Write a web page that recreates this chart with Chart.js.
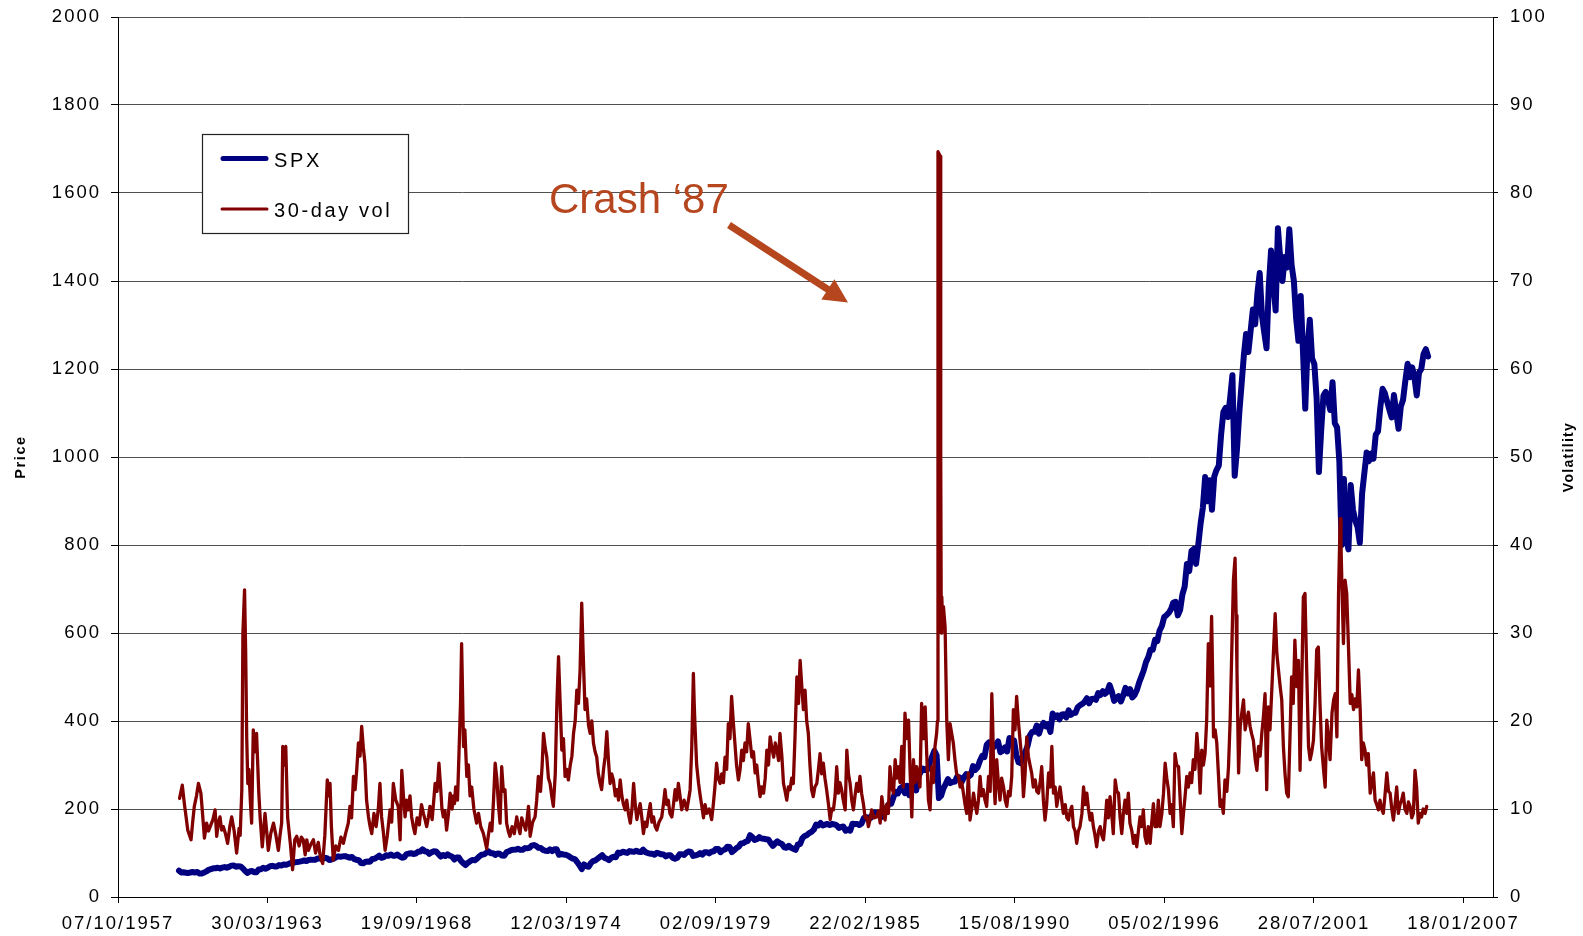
<!DOCTYPE html>
<html><head><meta charset="utf-8">
<script src="https://cdn.jsdelivr.net/npm/chart.js@4.4.0/dist/chart.umd.min.js"></script>
<style>html,body{margin:0;padding:0;background:#fff}canvas{display:block}</style>
</head><body>
<canvas id="c" width="1583" height="936"></canvas>
<script>
// ---------------- DATA ----------------
const xTickLabels = ['07/10/1957','30/03/1963','19/09/1968','12/03/1974','02/09/1979','22/02/1985','15/08/1990','05/02/1996','28/07/2001','18/01/2007'];
const priceAxis = {min: 0, max: 2000, step: 200};
const volAxis = {min: 0, max: 100, step: 10};
const seriesNames = ['SPX', '30-day vol'];
const annotationText = 'Crash \u201887';

// SPX, one value per month starting at the start of 1960
const spxStartYear = 1960;
const spxMonthly = [59.9,
55.6,56.1,55.3,54.4,55.8,56.9,55.5,57.0,53.5,53.4,55.5,58.1,
61.8,63.4,65.1,65.3,66.6,64.6,66.8,68.1,66.7,68.6,71.3,71.6,
68.8,69.9,69.6,65.2,59.6,54.8,58.2,59.1,56.3,56.5,62.3,63.1,
66.2,64.3,66.6,69.8,70.8,69.4,69.1,72.5,71.7,74.0,73.2,75.0,
77.0,77.8,79.0,79.5,80.4,81.7,83.2,81.8,84.2,84.9,84.4,84.8,
87.6,87.4,86.2,89.1,88.4,84.1,85.3,87.2,90.0,92.4,91.6,92.4,
92.9,91.2,89.2,91.1,86.1,84.7,83.6,77.1,76.6,80.2,80.5,80.3,
86.6,86.8,90.2,94.0,89.1,90.6,94.8,93.6,96.7,93.9,94.0,96.5,
92.2,89.4,90.2,97.5,98.7,99.6,97.7,98.9,102.7,103.4,108.4,103.9,
103.0,98.1,101.5,103.7,103.5,97.7,91.8,95.5,93.1,97.1,93.8,92.1,
85.0,89.5,89.6,81.5,76.6,72.7,78.1,81.5,84.3,83.3,87.2,92.2,
95.9,96.8,100.3,103.9,99.6,99.7,95.6,99.0,98.3,94.2,94.0,102.1,
103.9,106.6,107.2,107.7,109.5,107.1,107.4,111.1,110.6,111.6,116.7,118.1,
116.0,111.7,111.5,107.0,105.0,104.3,108.2,104.3,108.4,108.3,96.0,97.6,
96.6,96.2,94.0,90.3,87.3,86.0,79.3,72.2,63.5,73.9,70.0,68.6,
77.0,81.6,83.4,87.3,91.2,95.2,88.8,86.9,83.9,89.0,91.2,90.2,
100.9,99.7,102.8,101.6,100.2,104.3,103.4,102.9,105.2,102.9,102.1,107.5,
102.0,99.8,98.4,98.4,96.1,100.5,98.9,97.0,96.5,92.3,94.8,95.1,
89.3,87.0,89.2,97.0,97.2,95.5,100.7,103.3,102.5,93.2,94.7,96.1,
99.9,96.3,101.6,101.8,99.1,102.9,103.8,109.3,109.3,101.8,106.2,107.9,
114.2,113.7,102.1,106.3,111.2,114.2,121.7,122.4,125.5,127.5,140.5,135.8,
129.6,131.3,136.0,132.8,132.6,131.2,130.9,122.8,116.2,121.9,126.4,122.6,
120.4,113.1,112.0,116.4,111.9,109.6,107.1,119.5,120.4,133.7,138.5,140.6,
145.3,148.1,153.0,164.4,162.4,168.1,162.6,164.4,166.1,163.6,166.4,164.9,
163.4,157.1,159.2,160.1,150.6,153.2,150.7,166.7,166.1,166.1,163.6,167.2,
179.6,181.2,180.7,179.8,189.6,191.9,190.9,188.6,182.1,189.8,202.2,211.3,
211.8,226.9,238.9,235.5,247.4,250.8,236.1,252.9,231.3,244.0,249.2,242.2,
274.1,284.2,291.7,288.4,290.1,304.0,318.7,332.0,321.8,225.0,230.3,247.1,
257.1,267.8,258.9,261.3,262.2,273.5,272.0,261.5,271.9,279.0,273.7,277.7,
297.5,288.9,294.9,309.6,320.5,318.0,346.1,351.5,349.2,340.4,346.0,353.4,
329.1,331.9,339.9,330.8,361.2,358.0,356.2,322.6,306.1,304.0,322.2,330.2,
343.9,367.1,375.2,375.3,389.8,371.2,387.8,395.4,387.9,392.5,375.2,417.1,
408.8,412.7,403.7,415.0,415.4,408.1,424.2,414.0,417.8,418.7,431.4,435.7,
438.8,443.4,451.7,440.2,450.2,450.5,448.1,463.6,458.9,467.8,461.8,466.5,
481.6,467.1,445.8,450.9,456.5,444.3,458.3,475.5,462.7,472.4,453.7,459.3,
470.4,487.4,500.7,514.7,533.4,544.8,562.1,561.9,584.4,581.5,605.4,615.9,
636.0,640.4,645.5,654.2,669.1,670.6,640.0,652.0,687.3,705.3,757.0,740.7,
786.2,790.8,757.1,801.3,848.3,885.1,954.3,899.5,947.3,880.0,955.4,970.4,
980.3,1049.3,1101.8,1111.8,1090.8,1133.8,1186.0,957.3,1017.0,1098.7,1163.6,1229.2,
1279.6,1238.3,1286.4,1335.2,1301.8,1372.7,1418.0,1320.4,1282.7,1247.0,1388.9,1469.3,
1394.5,1333.0,1520.0,1452.4,1400.0,1454.6,1430.8,1517.7,1436.5,1400.0,1315.2,1264.0,
1366.0,1239.9,1110.0,1249.5,1312.0,1224.4,1211.2,1133.6,966.0,1059.8,1139.5,1148.1,
1130.2,1106.7,1170.0,1076.9,1067.1,989.8,800.0,950.0,815.3,790.0,936.3,879.8,
855.7,841.2,805.0,916.9,963.6,1010.0,990.3,1008.0,996.0,1050.7,1058.2,1111.9,
1155.0,1144.9,1126.2,1107.3,1090.0,1140.8,1101.7,1064.0,1114.6,1130.2,1173.8,1211.9,
1181.3,1203.6,1180.6,1140.0,1191.5,1200.0,1234.2,1245.0,1228.8
];

// 30-day volatility, [decimal year, vol %]
const volSeries = [
[1960.02,11.2],[1960.12,12.7],[1960.2,10.5],[1960.26,9.1],[1960.32,7.6],[1960.44,6.5],[1960.5,8.5],[1960.56,10.3],[1960.64,11.5],[1960.71,12.9],[1960.8,11.8],[1960.86,9.5],[1960.93,6.7],
[1961.01,8.4],[1961.08,7.5],[1961.14,8.0],[1961.24,8.8],[1961.32,9.9],[1961.38,6.9],[1961.44,8.5],[1961.5,9.1],[1961.56,7.6],[1961.62,8.0],[1961.7,7.2],[1961.78,6.1],[1961.86,8.0],[1961.93,9.1],
[1962.02,7.5],[1962.11,5.0],[1962.2,7.8],[1962.24,7.0],[1962.3,12.2],[1962.34,30.0],[1962.4,34.9],[1962.44,28.0],[1962.48,18.0],[1962.52,12.9],[1962.56,14.5],[1962.62,10.5],[1962.66,8.4],[1962.72,19.0],[1962.78,16.5],[1962.84,18.6],[1962.92,12.0],[1962.97,9.1],
[1963.05,5.7],[1963.15,9.5],[1963.21,7.5],[1963.27,5.3],[1963.36,7.2],[1963.46,8.4],[1963.55,7.0],[1963.64,5.3],[1963.7,7.0],[1963.76,8.4],[1963.8,17.1],[1963.86,15.0],[1963.91,17.1],[1963.98,9.0],
[1964.08,6.0],[1964.16,3.1],[1964.24,6.5],[1964.31,6.9],[1964.4,5.8],[1964.48,6.8],[1964.55,6.5],[1964.62,4.8],[1964.68,6.5],[1964.74,5.3],[1964.83,6.0],[1964.92,6.5],
[1965.0,5.0],[1965.1,6.2],[1965.18,4.5],[1965.26,3.8],[1965.34,7.0],[1965.43,13.3],[1965.48,11.5],[1965.53,12.9],[1965.58,8.0],[1965.65,4.2],[1965.74,5.8],[1965.84,5.3],[1965.93,6.8],
[1966.02,6.1],[1966.1,7.2],[1966.2,8.4],[1966.26,10.3],[1966.32,9.0],[1966.39,13.7],[1966.45,12.2],[1966.51,14.5],[1966.57,17.5],[1966.63,16.0],[1966.69,19.4],[1966.75,17.0],[1966.81,15.2],[1966.87,11.0],[1966.94,9.1],
[1967.0,8.0],[1967.06,7.2],[1967.14,9.5],[1967.22,8.0],[1967.3,10.0],[1967.36,12.9],[1967.42,9.1],[1967.48,7.5],[1967.55,5.3],[1967.63,7.0],[1967.73,9.9],[1967.79,8.5],[1967.85,12.9],[1967.94,11.0],
[1968.03,10.3],[1968.1,6.5],[1968.16,14.4],[1968.22,11.5],[1968.28,9.1],[1968.34,11.0],[1968.4,9.9],[1968.46,11.5],[1968.52,9.1],[1968.58,8.0],[1968.64,7.2],[1968.72,9.0],[1968.8,8.2],[1968.88,10.5],[1968.95,9.5],
[1969.01,8.8],[1969.07,8.0],[1969.13,9.0],[1969.19,10.3],[1969.27,8.8],[1969.33,11.0],[1969.38,12.9],[1969.45,12.0],[1969.52,15.2],[1969.58,12.5],[1969.63,10.0],[1969.68,9.1],[1969.74,9.8],[1969.8,7.6],[1969.87,9.5],[1969.93,11.8],
[1970.0,10.0],[1970.05,11.5],[1970.09,10.6],[1970.13,12.5],[1970.2,11.0],[1970.25,15.9],[1970.31,22.0],[1970.35,28.8],[1970.38,24.0],[1970.42,17.1],[1970.47,19.0],[1970.54,13.7],[1970.6,15.0],[1970.66,11.5],[1970.72,12.5],[1970.8,10.0],[1970.9,8.4],[1970.97,9.5],
[1971.05,8.0],[1971.15,7.2],[1971.27,5.5],[1971.33,7.0],[1971.4,8.4],[1971.46,7.5],[1971.52,11.0],[1971.58,15.2],[1971.64,13.5],[1971.7,10.5],[1971.76,8.4],[1971.82,14.8],[1971.88,12.0],[1971.94,12.2],
[1972.0,8.4],[1972.06,7.5],[1972.12,6.9],[1972.2,8.0],[1972.28,7.2],[1972.37,9.1],[1972.43,8.0],[1972.49,7.2],[1972.55,9.0],[1972.61,8.4],[1972.7,7.6],[1972.8,10.3],[1972.86,6.9],[1972.95,8.5],
[1973.04,9.1],[1973.1,11.0],[1973.16,13.7],[1973.24,12.0],[1973.3,15.0],[1973.35,18.6],[1973.41,17.0],[1973.47,15.9],[1973.53,13.5],[1973.59,12.9],[1973.65,11.5],[1973.71,10.3],[1973.78,14.0],[1973.84,22.0],[1973.9,27.3],[1973.96,22.0],
[1974.02,16.7],[1974.08,18.0],[1974.14,13.7],[1974.2,14.5],[1974.26,13.3],[1974.33,15.0],[1974.39,16.0],[1974.45,18.6],[1974.51,20.0],[1974.57,23.5],[1974.63,22.0],[1974.69,25.8],[1974.75,33.4],[1974.8,28.0],[1974.87,21.3],[1974.93,22.5],
[1975.0,19.5],[1975.06,18.6],[1975.12,20.0],[1975.18,17.5],[1975.24,16.5],[1975.3,15.9],[1975.36,14.0],[1975.42,13.0],[1975.48,12.2],[1975.55,14.5],[1975.61,16.0],[1975.67,18.8],[1975.73,15.5],[1975.79,12.9],[1975.85,14.0],[1975.91,13.3],[1975.98,11.5],
[1976.04,12.2],[1976.1,11.0],[1976.16,13.3],[1976.22,11.5],[1976.28,10.5],[1976.34,9.9],[1976.4,11.0],[1976.46,9.5],[1976.53,8.4],[1976.59,10.0],[1976.65,12.9],[1976.71,10.5],[1976.77,8.8],[1976.83,9.8],[1976.89,10.6],[1976.95,9.0],
[1977.01,7.2],[1977.07,8.5],[1977.13,8.0],[1977.2,9.5],[1977.26,10.6],[1977.32,8.5],[1977.38,9.1],[1977.44,8.0],[1977.5,7.6],[1977.58,8.5],[1977.68,9.1],[1977.74,10.5],[1977.8,12.2],[1977.86,10.5],[1977.92,11.0],[1977.98,9.5],
[1978.05,9.1],[1978.11,10.5],[1978.17,12.2],[1978.23,11.0],[1978.29,12.9],[1978.35,11.5],[1978.41,9.9],[1978.5,11.0],[1978.6,9.9],[1978.66,11.0],[1978.72,12.2],[1978.78,17.0],[1978.84,25.4],[1978.87,22.0],[1978.9,19.4],[1978.96,15.0],
[1979.03,12.9],[1979.09,11.5],[1979.15,10.3],[1979.21,9.0],[1979.27,10.5],[1979.33,9.5],[1979.42,10.0],[1979.51,8.8],[1979.57,10.5],[1979.63,12.5],[1979.69,15.2],[1979.75,13.5],[1979.82,12.9],[1979.88,14.0],[1979.94,13.0],
[1980.0,15.9],[1980.06,14.5],[1980.12,19.7],[1980.18,18.0],[1980.24,22.8],[1980.3,20.0],[1980.36,17.5],[1980.42,15.0],[1980.49,13.3],[1980.55,14.5],[1980.61,16.7],[1980.67,15.5],[1980.73,17.5],[1980.79,16.5],[1980.85,19.7],[1980.91,18.0],[1980.98,15.9],
[1981.04,16.5],[1981.1,14.1],[1981.16,15.0],[1981.22,13.0],[1981.28,11.4],[1981.34,12.5],[1981.41,11.8],[1981.47,13.5],[1981.53,16.7],[1981.59,15.0],[1981.65,18.2],[1981.71,17.0],[1981.78,15.9],[1981.84,17.5],[1981.9,16.7],[1981.96,15.5],
[1982.01,18.6],[1982.08,16.0],[1982.14,12.9],[1982.2,12.0],[1982.26,11.0],[1982.32,12.5],[1982.38,12.2],[1982.44,13.5],[1982.5,12.9],[1982.56,18.0],[1982.63,25.0],[1982.69,22.0],[1982.75,26.9],[1982.81,24.0],[1982.87,21.3],[1982.93,23.5],[1982.99,20.0],
[1983.05,18.6],[1983.11,15.0],[1983.17,12.2],[1983.23,11.4],[1983.29,12.5],[1983.36,12.9],[1983.42,14.5],[1983.48,16.3],[1983.54,14.0],[1983.6,15.2],[1983.66,13.5],[1983.72,12.2],[1983.79,10.5],[1983.85,8.8],[1983.91,10.0],[1983.97,9.9],
[1984.03,11.5],[1984.09,14.8],[1984.15,11.8],[1984.21,13.0],[1984.27,12.2],[1984.33,11.0],[1984.4,9.9],[1984.46,16.7],[1984.52,14.0],[1984.58,12.9],[1984.64,11.0],[1984.7,9.9],[1984.76,11.5],[1984.82,12.9],[1984.88,12.0],[1984.94,13.7],
[1985.0,11.8],[1985.07,10.5],[1985.13,9.0],[1985.19,9.1],[1985.25,8.0],[1985.31,8.8],[1985.37,9.9],[1985.45,9.0],[1985.56,9.1],[1985.62,9.8],[1985.68,8.4],[1985.74,11.4],[1985.8,10.0],[1985.86,8.75],[1985.92,10.5],[1985.98,9.5],
[1986.04,14.8],[1986.1,12.5],[1986.17,11.8],[1986.23,15.6],[1986.29,13.5],[1986.35,14.8],[1986.41,13.0],[1986.47,17.1],[1986.53,12.5],[1986.59,20.9],[1986.65,18.0],[1986.72,20.1],[1986.78,14.1],[1986.84,9.1],[1986.9,15.6],[1986.96,13.0],
[1987.02,14.8],[1987.08,13.5],[1987.14,12.5],[1987.2,22.0],[1987.27,18.0],[1987.33,21.6],[1987.39,16.0],[1987.45,11.0],[1987.51,9.9],[1987.57,14.8],[1987.63,13.0],[1987.69,17.1],[1987.75,18.6],[1987.78,20.0],[1987.8,84.7],[1987.88,84.2],[1987.9,50.0],[1987.92,30.0],[1987.94,34.1],[1987.97,31.0],
[1988.0,33.0],[1988.06,30.7],[1988.12,20.1],[1988.18,15.6],[1988.24,19.7],[1988.3,18.6],[1988.36,17.5],[1988.42,15.6],[1988.48,14.0],[1988.55,13.7],[1988.61,12.5],[1988.67,13.0],[1988.73,11.8],[1988.79,10.5],[1988.85,9.5],[1988.91,14.1],[1988.97,8.75],
[1989.03,10.0],[1989.1,11.8],[1989.16,10.5],[1989.22,9.5],[1989.28,11.0],[1989.34,13.7],[1989.4,11.5],[1989.46,12.2],[1989.52,11.0],[1989.58,10.3],[1989.65,13.7],[1989.71,12.0],[1989.77,23.1],[1989.8,20.0],[1989.84,14.0],[1989.89,10.6],[1989.95,15.6],
[1990.01,13.0],[1990.07,11.0],[1990.13,13.5],[1990.2,12.5],[1990.26,11.0],[1990.32,10.3],[1990.38,12.0],[1990.44,11.5],[1990.5,13.7],[1990.56,21.3],[1990.62,19.0],[1990.68,22.8],[1990.74,20.1],[1990.8,18.0],[1990.87,15.6],[1990.93,11.4],[1990.99,14.0],
[1991.05,18.2],[1991.11,16.0],[1991.17,15.0],[1991.23,14.1],[1991.29,12.5],[1991.36,13.3],[1991.42,12.0],[1991.48,11.8],[1991.54,13.0],[1991.6,14.8],[1991.66,11.0],[1991.72,8.75],[1991.78,10.5],[1991.85,14.1],[1991.91,12.5],[1991.97,17.1],
[1992.03,11.8],[1992.09,12.5],[1992.15,10.3],[1992.21,11.5],[1992.27,12.5],[1992.33,11.0],[1992.39,9.5],[1992.46,10.5],[1992.52,9.0],[1992.58,8.75],[1992.64,9.8],[1992.7,10.3],[1992.76,8.0],[1992.82,7.5],[1992.88,6.1],[1992.94,7.5],
[1993.0,8.0],[1993.07,9.5],[1993.13,12.5],[1993.19,10.5],[1993.25,11.8],[1993.31,10.0],[1993.37,8.75],[1993.43,9.5],[1993.49,8.0],[1993.55,7.0],[1993.61,5.7],[1993.68,7.5],[1993.74,8.0],[1993.8,7.0],[1993.86,6.5],[1993.92,8.5],[1993.98,11.0],
[1994.04,9.0],[1994.1,11.4],[1994.16,9.5],[1994.22,7.2],[1994.29,13.3],[1994.35,12.0],[1994.41,11.8],[1994.47,9.0],[1994.53,7.2],[1994.59,9.5],[1994.65,11.0],[1994.71,9.5],[1994.77,11.8],[1994.83,8.4],[1994.9,7.5],[1994.96,6.1],
[1995.02,7.0],[1995.08,5.7],[1995.14,7.5],[1995.2,9.1],[1995.26,8.0],[1995.32,9.9],[1995.38,6.9],[1995.44,6.1],[1995.5,8.0],[1995.57,6.1],[1995.63,8.5],[1995.69,10.6],[1995.75,8.0],[1995.81,8.0],[1995.87,11.0],[1995.93,8.0],
[1996.0,9.5],[1996.06,11.8],[1996.12,15.2],[1996.18,13.5],[1996.24,12.2],[1996.3,9.5],[1996.36,10.5],[1996.42,8.0],[1996.48,16.3],[1996.54,15.0],[1996.61,14.8],[1996.67,11.0],[1996.73,7.2],[1996.79,9.5],[1996.85,11.5],[1996.91,13.7],[1996.97,12.5],
[1997.03,14.1],[1997.09,13.0],[1997.15,15.6],[1997.21,14.5],[1997.28,18.6],[1997.34,16.0],[1997.4,11.8],[1997.46,16.7],[1997.52,15.0],[1997.58,16.3],[1997.64,20.1],[1997.7,28.8],[1997.76,24.0],[1997.82,31.9],[1997.86,25.0],[1997.89,18.2],[1997.95,19.0],
[1998.01,17.5],[1998.07,14.0],[1998.13,10.3],[1998.19,11.0],[1998.25,9.5],[1998.31,13.3],[1998.38,12.0],[1998.44,14.8],[1998.5,20.1],[1998.56,28.0],[1998.62,36.0],[1998.68,38.5],[1998.72,32.0],[1998.75,25.8],[1998.81,14.1],[1998.87,19.4],[1998.93,21.0],[1998.99,22.4],
[1999.05,19.0],[1999.11,20.1],[1999.17,21.0],[1999.23,19.4],[1999.29,18.5],[1999.35,17.8],[1999.42,15.6],[1999.48,14.4],[1999.54,17.1],[1999.6,16.0],[1999.66,18.6],[1999.72,20.5],[1999.78,23.1],[1999.84,12.2],[1999.9,21.6],[1999.96,19.0],
[2000.02,23.1],[2000.08,27.3],[2000.15,32.2],[2000.21,27.7],[2000.27,25.8],[2000.33,24.0],[2000.39,22.4],[2000.45,17.1],[2000.51,14.0],[2000.57,11.8],[2000.63,11.4],[2000.69,18.0],[2000.75,25.0],[2000.81,22.0],[2000.87,29.2],[2000.94,23.9],
[2001.0,26.9],[2001.06,14.4],[2001.12,23.9],[2001.18,34.1],[2001.24,34.5],[2001.3,26.2],[2001.37,17.1],[2001.43,15.6],[2001.49,16.5],[2001.55,17.8],[2001.61,22.0],[2001.67,28.1],[2001.73,28.4],[2001.79,22.0],[2001.85,17.1],[2001.92,14.5],[2001.98,12.5],
[2002.04,20.1],[2002.1,18.0],[2002.16,15.6],[2002.23,20.9],[2002.29,22.4],[2002.35,23.1],[2002.41,18.2],[2002.47,34.5],[2002.53,43.0],[2002.56,40.0],[2002.59,36.0],[2002.65,28.8],[2002.71,36.0],[2002.77,34.5],[2002.83,28.8],[2002.9,22.0],[2002.96,23.0],
[2003.02,21.3],[2003.08,22.5],[2003.14,21.6],[2003.2,25.8],[2003.26,21.6],[2003.32,15.6],[2003.38,17.5],[2003.44,16.7],[2003.5,15.0],[2003.56,16.3],[2003.63,11.8],[2003.69,13.0],[2003.75,14.1],[2003.81,11.0],[2003.87,10.5],[2003.93,9.9],[2003.99,11.0],
[2004.05,10.0],[2004.11,9.5],[2004.17,11.5],[2004.24,14.1],[2004.3,12.0],[2004.36,11.8],[2004.42,10.0],[2004.48,8.75],[2004.54,10.5],[2004.6,12.5],[2004.66,9.5],[2004.72,10.5],[2004.78,11.0],[2004.84,11.8],[2004.9,10.0],[2004.97,9.5],
[2005.03,10.8],[2005.09,10.3],[2005.15,9.0],[2005.21,9.5],[2005.27,14.4],[2005.33,12.5],[2005.39,8.4],[2005.45,9.5],[2005.51,9.1],[2005.57,10.0],[2005.64,9.5],[2005.7,10.3]
];

// ---------------- HELPERS ----------------
const EXCEL_BASE = Date.UTC(1899, 11, 30);
function labelToSerial(s) { const p = s.split('/').map(Number); return (Date.UTC(p[2], p[1] - 1, p[0]) - EXCEL_BASE) / 864e5; }
function yearToSerial(y) {
  const yi = Math.floor(y), a = Date.UTC(yi, 0, 1), b = Date.UTC(yi + 1, 0, 1);
  return (a + (y - yi) * (b - a) - EXCEL_BASE) / 864e5;
}
const xTickValues = xTickLabels.map(labelToSerial);
const X_MIN = xTickValues[0];
const X_MAX = X_MIN + 18395;

const spxData = spxMonthly.map((v, i) => ({x: yearToSerial(spxStartYear + i / 12), y: v}));
const volData = volSeries.map(p => ({x: yearToSerial(p[0]), y: p[1]}));

const FONT = "'Liberation Sans', Arial, sans-serif";
const SPX_COLOR = '#000080';
const VOL_COLOR = '#800000';
const NOTE_COLOR = '#B5461E';

function drawText(ctx, s, x, y, font, color, ls, align, baseline) {
  ctx.save();
  ctx.font = font; ctx.fillStyle = color; ctx.letterSpacing = ls;
  ctx.textAlign = align || 'left'; ctx.textBaseline = baseline || 'alphabetic';
  ctx.fillText(s, x, y);
  ctx.restore();
}
function noPad(s) { s.paddingTop = 0; s.paddingBottom = 0; s.paddingLeft = 0; s.paddingRight = 0; }

const decorPlugin = {
  id: 'decor',
  beforeDraw(chart) {
    const ctx = chart.ctx;
    ctx.save();
    ctx.fillStyle = '#fff';
    ctx.fillRect(0, 0, chart.width, chart.height);
    ctx.restore();
    ctx.letterSpacing = '2px';
  },
  afterDraw(chart) {
    const ctx = chart.ctx;
    // legend
    ctx.save();
    ctx.fillStyle = '#fff';
    ctx.fillRect(202.5, 134.5, 206, 99);
    ctx.strokeStyle = '#222'; ctx.lineWidth = 1.2;
    ctx.strokeRect(202.5, 134.5, 206, 99);
    ctx.lineCap = 'round';
    ctx.strokeStyle = SPX_COLOR; ctx.lineWidth = 5;
    ctx.beginPath(); ctx.moveTo(223, 158.5); ctx.lineTo(266, 158.5); ctx.stroke();
    ctx.strokeStyle = VOL_COLOR; ctx.lineWidth = 3;
    ctx.beginPath(); ctx.moveTo(222, 209); ctx.lineTo(267, 209); ctx.stroke();
    ctx.restore();
    drawText(ctx, seriesNames[0], 274, 167.3, '20px ' + FONT, '#000', '2.6px');
    drawText(ctx, seriesNames[1], 274, 216.7, '20px ' + FONT, '#000', '2.6px');

    // axis titles
    ctx.save();
    ctx.translate(21, 457); ctx.rotate(-Math.PI / 2);
    drawText(ctx, 'Price', 0, 0, 'bold 14.5px ' + FONT, '#000', '1.6px', 'center', 'middle');
    ctx.restore();
    ctx.save();
    ctx.translate(1569, 457); ctx.rotate(-Math.PI / 2);
    drawText(ctx, 'Volatility', 0, 0, 'bold 14px ' + FONT, '#000', '1.3px', 'center', 'middle');
    ctx.restore();

    // annotation
    drawText(ctx, annotationText, 549, 213, '42px ' + FONT, NOTE_COLOR, '0px');
    ctx.save();
    const x0 = 729, y0 = 225, x1 = 848, y1 = 302.5;
    const ang = Math.atan2(y1 - y0, x1 - x0);
    const hl = 24, hw = 12;
    const bx = x1 - hl * Math.cos(ang), by = y1 - hl * Math.sin(ang);
    ctx.strokeStyle = NOTE_COLOR; ctx.fillStyle = NOTE_COLOR;
    ctx.lineWidth = 7; ctx.lineCap = 'butt';
    ctx.beginPath(); ctx.moveTo(x0, y0); ctx.lineTo(bx + 2 * Math.cos(ang), by + 2 * Math.sin(ang)); ctx.stroke();
    ctx.beginPath();
    ctx.moveTo(x1, y1);
    ctx.lineTo(bx + hw * Math.sin(ang), by - hw * Math.cos(ang));
    ctx.lineTo(bx - hw * Math.sin(ang), by + hw * Math.cos(ang));
    ctx.closePath(); ctx.fill();
    ctx.restore();
  }
};

new Chart(document.getElementById('c'), {
  type: 'line',
  data: {
    datasets: [
      {label: seriesNames[0], data: spxData, yAxisID: 'y', borderColor: SPX_COLOR, backgroundColor: SPX_COLOR,
       borderWidth: 6, pointRadius: 0, tension: 0, borderJoinStyle: 'round', borderCapStyle: 'round', order: 2},
      {label: seriesNames[1], data: volData, yAxisID: 'yVol', borderColor: VOL_COLOR, backgroundColor: VOL_COLOR,
       borderWidth: 3.3, pointRadius: 0, tension: 0, borderJoinStyle: 'round', borderCapStyle: 'round', order: 1}
    ]
  },
  options: {
    responsive: false,
    animation: false,
    devicePixelRatio: 1,
    parsing: false,
    normalized: true,
    layout: {padding: {top: 17, left: 0, right: 0, bottom: 0}},
    plugins: {legend: {display: false}, tooltip: {enabled: false}, title: {display: false}},
    scales: {
      x: {
        type: 'linear', position: 'bottom', min: X_MIN, max: X_MAX,
        afterBuildTicks: s => { s.ticks = xTickValues.map(v => ({value: v})); },
        afterFit: s => { s.height = 39; noPad(s); },
        grid: {display: true, drawOnChartArea: false, drawTicks: true, tickLength: 6, tickColor: '#000', tickWidth: 1},
        border: {display: true, color: '#000', width: 1},
        ticks: {autoSkip: false, maxRotation: 0, minRotation: 0, padding: 10, color: '#000',
                font: {family: FONT, size: 18.5},
                callback: (v, i) => xTickLabels[i]}
      },
      y: {
        type: 'linear', position: 'left', min: priceAxis.min, max: priceAxis.max,
        afterFit: s => { s.width = 118; noPad(s); },
        grid: {color: '#505050', lineWidth: 1, drawTicks: true, tickLength: 7, tickColor: '#000'},
        border: {display: true, color: '#000', width: 1},
        ticks: {stepSize: priceAxis.step, padding: 10, color: '#000', font: {family: FONT, size: 18.5},
                callback: v => String(v)}
      },
      yVol: {
        type: 'linear', position: 'right', min: volAxis.min, max: volAxis.max,
        afterFit: s => { s.width = 90; noPad(s); },
        grid: {display: true, drawOnChartArea: false, drawTicks: true, tickLength: 5, tickColor: '#000'},
        border: {display: true, color: '#000', width: 1},
        ticks: {stepSize: volAxis.step, padding: 12, color: '#000', font: {family: FONT, size: 18.5},
                callback: v => String(v)}
      }
    }
  },
  plugins: [decorPlugin]
});
</script>
</body></html>
